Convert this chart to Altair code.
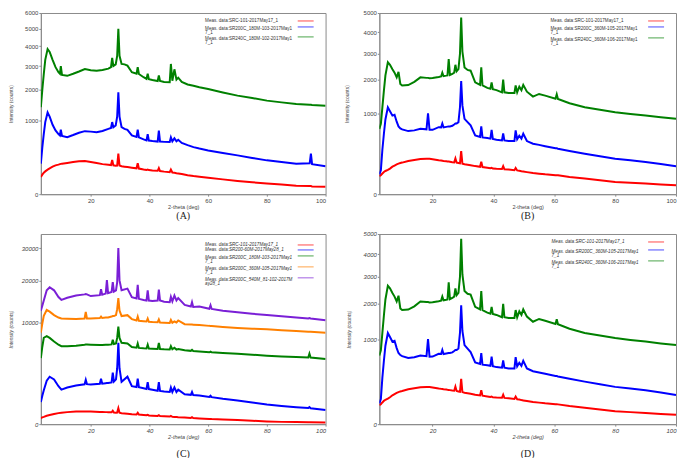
import altair as alt
import pandas as pd

# ---------------- Panel A (180 min samples) ----------------
theta_a = [3, 3.5, 4, 4.5, 5.3, 6, 7, 8, 9, 9.5, 9.8, 10.2, 12, 14, 16, 18, 20, 22, 24, 26,
           26.9, 27.3, 27.7, 28.5, 29.0, 29.4, 29.8, 30.5, 31.5, 32.5, 34, 35.6, 36, 36.4, 38,
           39.0, 39.4, 39.8, 41, 42.8, 43.2, 43.6, 45, 46.9, 47.3, 47.8, 48.5, 49.2, 49.8, 51,
           53, 55, 57, 60, 65, 70, 75, 80, 85, 90, 94.6, 95, 95.4, 100]
a_green = [1380, 2000, 2640, 3300, 3850, 3700, 3300, 2950, 2720, 2650, 3000, 2600, 2560, 2650,
           2750, 2860, 2810, 2780, 2820, 2880, 2950, 3400, 3000, 3080, 3500, 5000, 3500, 3100,
           3080, 3020, 2720, 2650, 2950, 2640, 2500, 2430, 2650, 2420, 2380, 2340, 2580, 2340,
           2300, 2290, 3100, 2350, 2850, 2400, 2480, 2300, 2200, 2150, 2090, 2020, 1890, 1775,
           1690, 1600, 1540, 1490, 1460, 1460, 1455, 1430]
a_blue = [170, 400, 666, 950, 1220, 1100, 880, 742, 660, 630, 760, 620, 595, 640, 690, 726, 715,
          703, 730, 780, 800, 950, 820, 862, 1100, 1900, 1100, 820, 780, 757, 630, 600, 760, 590,
          550, 530, 660, 525, 515, 505, 740, 505, 500, 498, 590, 510, 570, 510, 540, 480, 440,
          405, 380, 350, 310, 275, 240, 209, 188, 170, 175, 300, 165, 142]
a_red = [54, 70, 85, 95, 110, 122, 138, 152, 160, 165, 168, 170, 178, 188, 198, 201, 189, 178,
         165, 158, 155, 215, 152, 148, 150, 300, 150, 142, 138, 134, 128, 122, 175, 120, 112,
         108, 110, 106, 102, 100, 125, 98, 93, 88, 110, 86, 84, 80, 78, 74, 66, 60, 56, 50, 40,
         32, 26, 21, 17, 13, 12, 12, 11, 10]
names_a = ["Meas. data:SRC-101-2017May17_1",
           "Meas. data:SR200C_180M-103-2017May1\n7_1",
           "Meas. data:SR240C_180M-102-2017May1\n7_1"]

# ---------------- Panels B and D (360 min samples) ----------------
theta_b = [2.5, 3, 3.5, 4, 4.5, 5.3, 6, 6.8, 7.5, 8.2, 8.8, 9.4, 10, 12, 14, 16, 18, 18.5, 19,
           20, 22, 22.8, 23.2, 23.6, 24.5, 24.9, 25.3, 25.7, 26.5, 27.1, 27.5, 27.9, 28.5, 29.0,
           29.4, 29.8, 30.5, 31.5, 32.5, 34, 35.6, 36, 36.4, 38, 39.0, 39.4, 39.8, 41, 42.8,
           43.2, 43.6, 45, 46.9, 47.3, 47.8, 48.5, 49.2, 49.8, 51, 53, 55, 57, 60.4, 60.8, 61.2,
           65, 70, 75, 80, 85, 90, 95, 100]
b_green = [650, 754, 1150, 1633, 2150, 2650, 2550, 2380, 2250, 2080, 2280, 1850, 1800, 1815,
           1920, 2079, 2060, 2060, 2050, 2055, 2090, 2110, 2250, 2120, 2140, 2150, 2780, 2160,
           2200, 2250, 2550, 2300, 2385, 3000, 4750, 3100, 2448, 2350, 2322, 1905, 1820, 2450,
           1800, 1720, 1690, 1900, 1680, 1650, 1580, 2000, 1580, 1560, 1560, 1800, 1580, 1760,
           1650, 1820, 1600, 1450, 1530, 1480, 1390, 1520, 1380, 1260, 1151, 1085, 1024, 980,
           942, 900, 865]
b_blue = [60, 87, 300, 556, 850, 1150, 1050, 940, 960, 800, 700, 660, 640, 606, 620, 651, 640,
          998, 630, 631, 684, 680, 760, 680, 690, 695, 700, 700, 712, 740, 760, 760, 790, 1150,
          1950, 1200, 865, 790, 720, 526, 500, 700, 490, 480, 470, 630, 465, 450, 440, 560, 440,
          430, 430, 620, 460, 520, 470, 556, 430, 388, 370, 350, 320, 320, 315, 285, 250, 220,
          192, 175, 158, 138, 118]
b_red = [50, 55, 65, 75, 82, 90, 100, 115, 125, 135, 142, 148, 152, 168, 178, 188, 192, 192,
         190, 186, 175, 172, 170, 168, 165, 163, 162, 160, 156, 154, 195, 152, 148, 145, 284,
         142, 136, 132, 128, 120, 114, 160, 112, 106, 102, 105, 100, 98, 96, 120, 95, 92, 88,
         105, 86, 84, 80, 78, 74, 68, 64, 60, 55, 55, 54, 45, 37, 30, 23, 20, 17, 14, 12]
names_b = ["Meas. data:SRC-101-2017May17_1",
           "Meas. data:SR200C_360M-105-2017May1\n7_1",
           "Meas. data:SR240C_360M-106-2017May1\n7_1"]

# ---------------- Panel C (SR200 series) ----------------
theta_c = [3, 3.5, 4, 5, 6, 7.5, 9, 10, 12, 15, 17.9, 18.3, 18.7, 20, 23.1, 23.5, 23.9, 25.1,
           25.5, 25.9, 27.1, 27.5, 27.9, 28.6, 29.0, 29.4, 29.8, 30.5, 32.5, 34, 35.6, 36, 36.4,
           38, 39.0, 39.4, 39.8, 41, 42.8, 43.2, 43.6, 45, 46.9, 47.3, 47.8, 48.5, 49.2, 49.8,
           52, 54.1, 54.5, 54.9, 57, 60.4, 60.8, 61.2, 65, 70, 75, 80, 85, 90, 94.1, 94.5, 94.9,
           100]
c_purple = [12470, 13600, 14800, 17340, 18140, 17340, 15625, 14960, 15460, 16040, 16300, 16400,
            16300, 15880, 16100, 17600, 16200, 16500, 20070, 16600, 16900, 19500, 17000, 17340,
            19500, 30000, 20000, 17340, 17780, 15625, 15300, 18800, 15200, 14900, 14800, 17300,
            14800, 14700, 14800, 17500, 14800, 14500, 14400, 15700, 14600, 16000, 14800, 15400,
            13770, 13400, 14400, 13300, 13400, 12900, 13700, 12840, 12470, 12100, 11800, 11520,
            11250, 11025, 10800, 10900, 10800, 10470]
c_orange = [8100, 9800, 11380, 12620, 12250, 11500, 11000, 10820, 10750, 10680, 10800, 12200,
            10800, 10800, 10900, 11200, 10900, 11000, 11000, 11000, 11200, 11300, 11300, 11520,
            12800, 15380, 12500, 11300, 11500, 10680, 10400, 11200, 10340, 10250, 10200, 10800,
            10150, 10100, 10050, 10600, 10000, 9950, 9900, 10500, 9950, 10200, 10000, 10400,
            9670, 9600, 9600, 9580, 9500, 9350, 9344, 9340, 9150, 8960, 8830, 8710, 8550, 8400,
            8280, 8280, 8270, 8100]
c_green = [4225, 5800, 7225, 7510, 7200, 6600, 6100, 5878, 5880, 5950, 6100, 6136, 6130, 6100,
           6050, 6050, 6050, 6100, 6100, 6100, 6150, 6900, 6200, 6294, 7200, 9216, 7200, 6400,
           6294, 5750, 5650, 6300, 5625, 5560, 5530, 6100, 5520, 5500, 5480, 6400, 5470, 5430,
           5400, 5900, 5420, 5650, 5380, 5450, 5280, 5200, 5350, 5180, 5100, 5000, 5100, 4990,
           4900, 4807, 4670, 4533, 4440, 4356, 4300, 4810, 4290, 4096]
c_blue = [470, 780, 1111, 1820, 2178, 1936, 1394, 1156, 1296, 1444, 1540, 1900, 1550, 1520, 1580,
          2000, 1590, 1620, 1630, 1640, 1680, 2567, 1750, 1936, 3000, 6400, 3000, 1736, 2178,
          1394, 1330, 2000, 1320, 1250, 1200, 1700, 1190, 1150, 1080, 1700, 1067, 1030, 1000,
          1300, 1000, 1300, 1000, 1150, 860, 830, 1000, 820, 800, 711, 780, 705, 620, 544, 455,
          374, 320, 278, 250, 280, 245, 196]
c_red = [36, 45, 52, 69, 80, 100, 118, 128, 140, 152, 155, 155, 155, 152, 145, 145, 144, 140,
         140, 138, 135, 175, 130, 125, 130, 245, 125, 115, 105, 96, 90, 125, 88, 80, 76, 85, 74,
         70, 66, 78, 64, 60, 55, 66, 53, 51, 48, 46, 42, 37, 46, 36, 32, 26, 26, 25, 20, 16, 11,
         7, 5, 4, 3.5, 3.5, 3.5, 3]
names_c = ["Meas. data:SRC-101-2017May17_1",
           "Meas. data:SR200-60M-2017May28_1",
           "Meas. data:SR200C_180M-103-2017May1\n7_1",
           "Meas. data:SR200C_360M-105-2017May1\n7_1",
           "Meas. data:SR200C_540M_81-102-2017M\nay28_1"]

RED, BLUE, GREEN, ORANGE, PURPLE = "#ff0000", "#0000ff", "#008000", "#ff8000", "#7a1fd6"
GRAY = "#8a8a8a"


def panel(theta, series, names, colors, ymax, yticks, w, h, label, italic,
          leg_x, leg_rows, title_pad, label_offset, xmin):
    style = "italic" if italic else "normal"
    frames = []
    for name, ys in zip(names, series):
        frames.append(pd.DataFrame({"theta": theta, "counts": ys, "series": name}))
    df = pd.concat(frames, ignore_index=True)

    lines = alt.Chart(df).mark_line(strokeWidth=2, clip=True).encode(
        x=alt.X("theta:Q",
                scale=alt.Scale(domain=[xmin, 100], nice=False, zero=False),
                axis=alt.Axis(values=[20, 40, 60, 80, 100], format="d", title="2-theta (deg)",
                              grid=False, labelFontSize=6, titleFontSize=5.5,
                              labelFontStyle=style, titleFontStyle=style,
                              titleFontWeight="normal", tickSize=2, labelPadding=1,
                              titlePadding=1, domainColor=GRAY, tickColor=GRAY,
                              labelColor="#444", titleColor="#444")),
        y=alt.Y("counts:Q",
                scale=alt.Scale(type="sqrt", domain=[0, ymax], nice=False, zero=True),
                axis=alt.Axis(values=yticks, format="d", title="Intensity (counts)",
                              grid=False, labelFontSize=6, titleFontSize=5,
                              labelFontStyle=style, titleFontStyle=style,
                              titleFontWeight="normal", tickSize=2, labelPadding=1,
                              minExtent=20, maxExtent=20, titlePadding=title_pad,
                              domainColor=GRAY, tickColor=GRAY, labelColor="#444",
                              titleColor="#444")),
        color=alt.Color("series:N", scale=alt.Scale(domain=names, range=colors), legend=None),
        detail="series:N",
    )

    layers = [lines]
    for name, col, (ty, sy) in zip(names, colors, leg_rows):
        txt = alt.Chart(pd.DataFrame({"label": [name]})).mark_text(
            align="left", baseline="middle", fontSize=4.6, lineHeight=4.4, lineBreak="\n",
            color="#333", fontStyle=style, font="Liberation Sans"
        ).encode(text="label:N", x=alt.value(leg_x), y=alt.value(ty))
        sym = alt.Chart(pd.DataFrame({"label": [name]})).mark_rule(
            color=col, strokeWidth=1.3, opacity=0.55
        ).encode(x=alt.value(w - 28), x2=alt.value(w - 12), y=alt.value(sy))
        layers += [txt, sym]

    return alt.layer(*layers).resolve_scale(color="independent").properties(
        width=w, height=h,
        title=alt.TitleParams(label, orient="bottom", font="Liberation Serif", fontSize=10,
                              fontWeight="normal", color="#222", offset=label_offset),
    )


pa = panel(theta_a, [a_red, a_blue, a_green], names_a, [RED, BLUE, GREEN], 6000,
           [0, 1000, 2000, 3000, 4000, 5000, 6000], 286, 182, "(A)", False,
           165, [(8, 8), (16, 14), (26, 24)], 7, 1, 3)
pb = panel(theta_b, [b_red, b_blue, b_green], names_b, [RED, BLUE, GREEN], 5000,
           [0, 1000, 2000, 3000, 4000, 5000], 298, 182, "(B)", False,
           172, [(8, 8), (16, 14), (27, 25)], 10, 1, 2.5)
pc = panel(theta_c, [c_red, c_blue, c_green, c_orange, c_purple], names_c,
           [RED, BLUE, GREEN, ORANGE, PURPLE], 35000, [0, 10000, 20000, 30000],
           286, 191, "(C)", True,
           165, [(11, 11), (16, 16), (24, 22), (35, 33), (46, 44)], 7, 9, 3)
pd_ = panel(theta_b, [b_red, b_blue, b_green], names_b, [RED, BLUE, GREEN], 5000,
            [0, 1000, 2000, 3000, 4000, 5000], 298, 191, "(D)", True,
            173, [(8, 8), (18, 16), (29, 27)], 8, 9, 2.5)

chart = alt.concat(pa, pb, pc, pd_, columns=2, spacing={"row": 40, "column": 54},
                   bounds="flush").resolve_scale(color="independent").properties(
    padding=0).configure_view(stroke=GRAY, strokeWidth=1)

chart.save("out.html", embed_options={"renderer": "svg", "actions": False})
